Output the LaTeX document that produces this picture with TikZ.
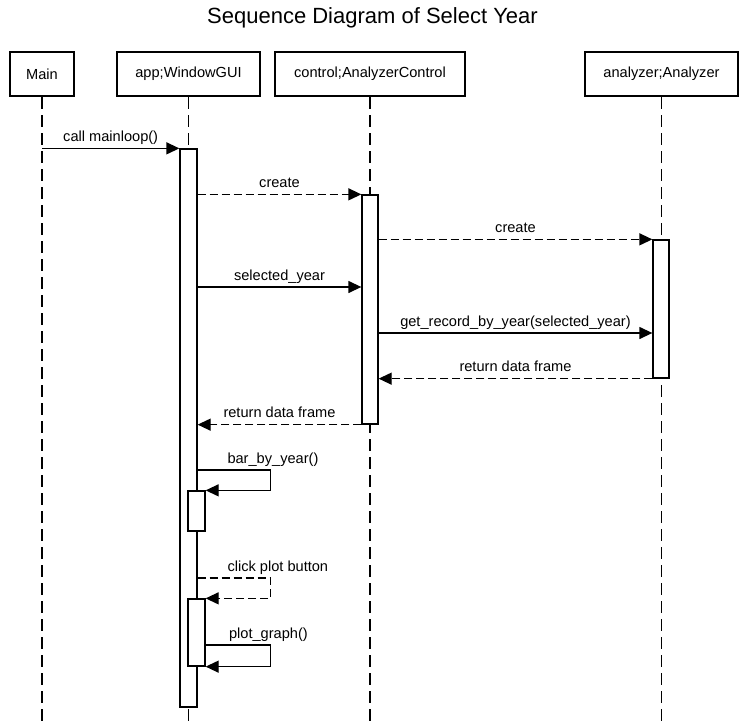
\documentclass[tikz,border=0pt]{standalone}
\usepackage{fontspec}
\setmainfont{Liberation Sans}
\usetikzlibrary{arrows.meta}
\begin{document}
\begin{tikzpicture}[x=1pt,y=-1pt,
  head/.style={draw, line width=2pt, minimum height=44pt, font=\fontsize{14.6}{17}\selectfont, inner sep=0},
  act/.style={draw, fill=white, line width=1.3pt, inner sep=0},
  life/.style={line width=1.2pt, dash pattern=on 12pt off 6pt},
  msg/.style={line width=1.3pt, -{Triangle[length=13pt,width=12pt]}},
  ret/.style={msg, dash pattern=on 8pt off 4pt},
  lbl/.style={font=\fontsize{14.6}{17}\selectfont, anchor=base, inner sep=0}]
\useasboundingbox (0,0) rectangle (745,723);
\node[font=\fontsize{22}{26}\selectfont] (title) at (372.5,18) {Sequence Diagram of Select Year};
% heads
\node[head, minimum width=64pt]  (main) at (42,74)    {Main};
\node[head, minimum width=143pt] (app)  at (188.5,74) {app;WindowGUI};
\node[head, minimum width=190pt] (ctrl) at (370,74)   {control;AnalyzerControl};
\node[head, minimum width=153pt] (ana)  at (661.5,74) {analyzer;Analyzer};
% lifeline ends
\coordinate (mainE) at (42,723);
\coordinate (appE)  at (188.5,723);
\coordinate (ctrlE) at (370,723);
\coordinate (anaE)  at (661.5,723);
\draw[life] (main.south) -- (mainE);
\draw[life] (app.south) -- (appE);
\draw[life] (ctrl.south) -- (ctrlE);
\draw[life] (ana.south) -- (anaE);
% activations
\node[act, minimum width=17pt, minimum height=558pt] (appA)  at (188.5,428) {};
\node[act, minimum width=16pt, minimum height=229pt] (ctrlA) at (370,309.5) {};
\node[act, minimum width=16pt, minimum height=138pt] (anaA)  at (661,309) {};
\node[act, minimum width=17pt, minimum height=40pt]  (s1)    at (196.5,511) {};
\node[act, minimum width=17pt, minimum height=67pt]  (s2)    at (196.5,632.5) {};
% messages
\draw[msg] (main |- appA.north west) -- node[lbl, midway, yshift=7pt] {call mainloop()} (appA.north west);
\draw[ret] (appA.east |- ctrlA.north) -- node[lbl, midway, yshift=7pt] {create} (ctrlA.north west);
\draw[ret] (ctrlA.east |- anaA.north) -- node[lbl, midway, yshift=7pt] {create} (anaA.north west);
\draw[msg] (appA.east |- 0,287) -- node[lbl, midway, yshift=7pt] {selected\_year} (ctrlA.west |- 0,287);
\draw[msg] (ctrlA.east |- 0,333) -- node[lbl, midway, yshift=7pt] {get\_record\_by\_year(selected\_year)} (anaA.west |- 0,333);
\draw[ret] (anaA.south west) -- node[lbl, midway, yshift=7pt] {return data frame} (ctrlA.east |- anaA.south west);
\draw[ret] (ctrlA.south west) -- node[lbl, midway, yshift=7pt] {return data frame} (appA.east |- ctrlA.south west);
% self calls
\draw[msg] (appA.east |- 0,470) -- node[lbl, anchor=base west, pos=0.4, yshift=7pt] {bar\_by\_year()} ++(73,0) |- (s1.north east);
\draw[ret] (appA.east |- 0,578) -- node[lbl, anchor=base west, pos=0.4, yshift=7pt] {click plot button} ++(73,0) |- (s2.north east);
\draw[msg] (s2.east |- 0,645) -- node[lbl, anchor=base west, pos=0.35, yshift=7pt] {plot\_graph()} ++(65,0) |- (s2.south east);
\end{tikzpicture}
\end{document}
